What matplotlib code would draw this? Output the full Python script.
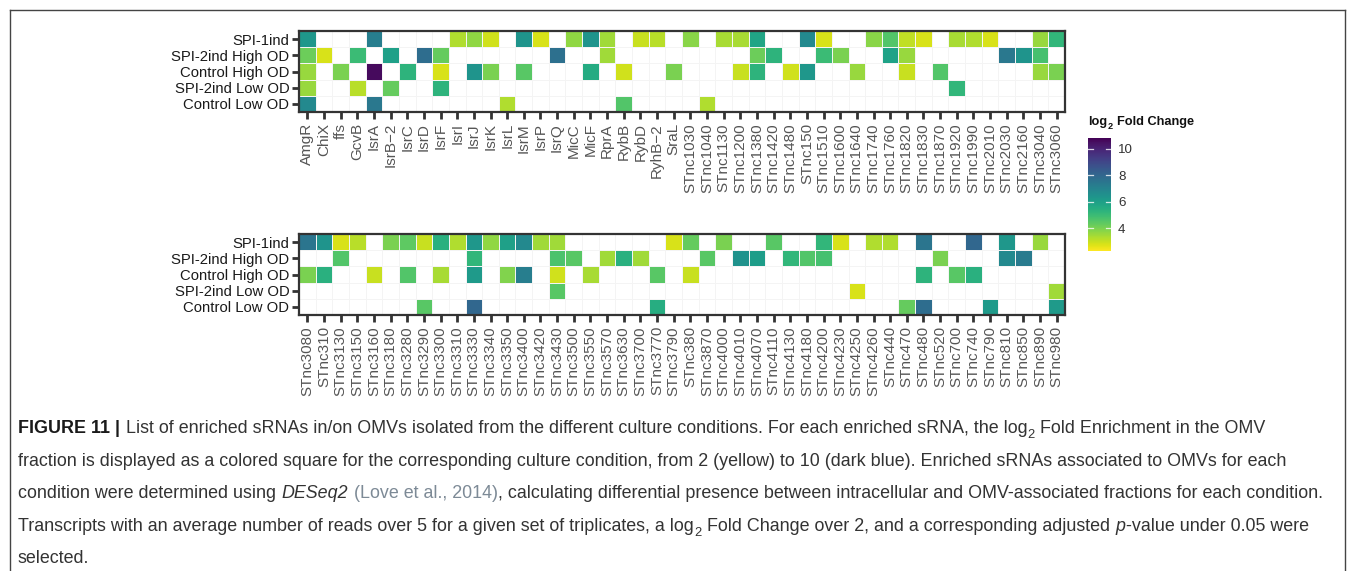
import numpy as np
import matplotlib
matplotlib.use('Agg')
import matplotlib.pyplot as plt
from matplotlib.transforms import IdentityTransform
from matplotlib.lines import Line2D

plt.rcParams['font.family'] = ['Liberation Sans', 'DejaVu Sans']

_ = None

conditions = ['SPI-1ind', 'SPI-2ind High OD', 'Control High OD',
              'SPI-2ind Low OD', 'Control Low OD']

top_srnas = ['AmgR', 'ChiX', 'ffs', 'GcvB', 'IsrA', 'IsrB\u22122', 'IsrC', 'IsrD',
             'IsrF', 'IsrI', 'IsrJ', 'IsrK', 'IsrL', 'IsrM', 'IsrP', 'IsrQ',
             'MicC', 'MicF', 'RprA', 'RybB', 'RybD', 'RyhB\u22122', 'SraL',
             'STnc1030', 'STnc1040', 'STnc1130', 'STnc1200', 'STnc1380',
             'STnc1420', 'STnc1480', 'STnc150', 'STnc1510', 'STnc1600',
             'STnc1640', 'STnc1740', 'STnc1760', 'STnc1820', 'STnc1830',
             'STnc1870', 'STnc1920', 'STnc1990', 'STnc2010', 'STnc2030',
             'STnc2160', 'STnc3040', 'STnc3060']

bottom_srnas = ['STnc3080', 'STnc310', 'STnc3130', 'STnc3150', 'STnc3160',
                'STnc3180', 'STnc3280', 'STnc3290', 'STnc3300', 'STnc3310',
                'STnc3330', 'STnc3340', 'STnc3350', 'STnc3400', 'STnc3420',
                'STnc3430', 'STnc3500', 'STnc3550', 'STnc3570', 'STnc3630',
                'STnc3700', 'STnc3770', 'STnc3790', 'STnc380', 'STnc3870',
                'STnc4000', 'STnc4010', 'STnc4070', 'STnc4110', 'STnc4130',
                'STnc4180', 'STnc4200', 'STnc4230', 'STnc4250', 'STnc4260',
                'STnc440', 'STnc470', 'STnc480', 'STnc520', 'STnc700',
                'STnc740', 'STnc790', 'STnc810', 'STnc850', 'STnc890', 'STnc980']

# log2 fold change per condition (None = not enriched)
top_spi1 = [6.3, _, _, _, 7.2, _, _, _, _, 3.3,
            3.7, 2.9, _, 6.4, 2.8, _, 3.7, 6.4, 3.5, _,
            3.0, 3.2, _, 3.8, _, 3.4, 3.4, 5.8, _, _,
            6.8, 2.8, _, _, 3.8, 4.6, 3.1, 2.8, _, 3.4,
            3.3, 2.8, _, _, 3.6, 5.2]
top_spi2_high = [4.2, 2.8, _, 5.0, _, 6.0, _, 7.8, 4.3, _,
                 _, _, _, _, _, 7.7, _, _, 3.5, _,
                 _, _, _, _, _, _, _, 4.2, 5.3, _,
                 _, 5.0, 4.0, _, _, 5.9, 3.6, _, _, _,
                 _, _, 7.4, 6.4, 4.8, _]
top_ctrl_high = [3.6, _, 4.0, _, 10.6, _, 5.3, _, 2.8, _,
                 6.4, 4.0, _, 4.5, _, _, _, 5.6, _, 2.9,
                 _, _, 4.0, _, _, _, 3.0, 5.3, _, 2.9,
                 6.3, _, _, 3.6, _, _, 3.0, _, 4.6, _,
                 _, _, _, _, 3.6, 4.0]
top_spi2_low = [3.6, _, _, 3.2, _, 4.3, _, _, 5.3, _,
                _, _, _, _, _, _, _, _, _, _,
                _, _, _, _, _, _, _, _, _, _,
                _, _, _, _, _, _, _, _, _, 5.2,
                _, _, _, _, _, _]
top_ctrl_low = [6.8, _, _, _, 7.4, _, _, _, _, _,
                _, _, 3.3, _, _, _, _, _, _, 4.6,
                _, _, _, _, 3.3, _, _, _, _, _,
                _, _, _, _, _, _, _, _, _, _,
                _, _, _, _, _, _]

bottom_spi1 = [7.5, 6.4, 2.8, 3.2, _, 4.0, 4.4, 3.0, 5.4, 3.3,
               6.3, 3.7, 6.0, 6.8, 3.5, 3.5, _, _, _, _,
               _, _, 2.8, 4.3, _, 4.0, _, _, 4.5, _,
               _, 5.2, 2.8, _, 3.3, 3.3, _, 7.5, _, _,
               8.0, _, 6.3, _, 3.6, _]
bottom_spi2_high = [_, _, 4.6, _, _, _, _, _, _, _,
                    5.2, _, _, _, _, 4.7, 4.5, _, 3.5, 5.4,
                    3.5, _, _, _, 4.5, _, 6.5, 6.1, _, 5.2,
                    4.6, 4.8, _, _, _, _, _, _, 4.0, _,
                    _, _, 6.8, 7.3, _, _]
bottom_ctrl_high = [4.0, 5.4, _, _, 3.0, _, 4.6, _, 3.4, _,
                    6.2, _, 3.9, 7.2, _, 2.9, _, 3.4, _, _,
                    _, 4.5, _, 3.0, _, _, _, _, _, _,
                    _, _, _, _, _, _, _, 5.3, _, 4.5,
                    5.4, _, _, _, _, _]
bottom_spi2_low = [_, _, _, _, _, _, _, _, _, _,
                   _, _, _, _, _, 4.5, _, _, _, _,
                   _, _, _, _, _, _, _, _, _, _,
                   _, _, _, 2.8, _, _, _, _, _, _,
                   _, _, _, _, _, 3.5]
bottom_ctrl_low = [_, _, _, _, _, _, _, 4.5, _, _,
                   8.0, _, _, _, _, _, _, _, _, _,
                   _, 5.5, _, _, _, _, _, _, _, _,
                   _, _, _, _, _, _, 4.3, 7.8, _, _,
                   _, 6.2, _, _, _, 6.2]

cbar_ticks = [4, 6, 8, 10]
VMIN, VMAX = 2.3, 10.8

W, H = 1360, 571
fig = plt.figure(figsize=(W / 100, H / 100), dpi=100)
fig.patch.set_facecolor('white')


def to_matrix(rows):
    return np.ma.masked_invalid(np.array(
        [[np.nan if v is None else v for v in row] for row in rows], dtype=float))


def heatmap(rect, rows, names):
    ax = fig.add_axes(rect)
    data = to_matrix(rows)
    ny, nx = data.shape
    mesh = ax.pcolormesh(np.arange(nx + 1), np.arange(ny + 1), data,
                         cmap='viridis_r', vmin=VMIN, vmax=VMAX,
                         edgecolors='#f4f4f4', linewidth=0.4)
    ax.set_xlim(0, nx)
    ax.set_ylim(ny, 0)
    ax.set_xticks(np.arange(nx) + 0.5)
    ax.set_xticklabels(names, rotation=90)
    ax.set_yticks(np.arange(ny) + 0.5)
    ax.set_yticklabels(conditions)
    ax.tick_params(axis='x', length=5, width=2, color='#333333',
                   labelcolor='#555555', labelsize=11, pad=3)
    ax.tick_params(axis='y', length=5, width=2, color='#333333',
                   labelcolor='#1a1a1a', labelsize=10.7, pad=2)
    for s in ax.spines.values():
        s.set_color('#333333')
        s.set_linewidth(1.6)
    return mesh


mesh = heatmap([299 / W, 1 - 112 / H, 766 / W, 81 / H],
               [top_spi1, top_spi2_high, top_ctrl_high, top_spi2_low, top_ctrl_low],
               top_srnas)
heatmap([299 / W, 1 - 315 / H, 766 / W, 81 / H],
        [bottom_spi1, bottom_spi2_high, bottom_ctrl_high, bottom_spi2_low, bottom_ctrl_low],
        bottom_srnas)

# colour bar
cax = fig.add_axes([1088 / W, 1 - 251 / H, 23 / W, 113 / H])
cb = fig.colorbar(mesh, cax=cax, ticks=cbar_ticks)
cb.outline.set_visible(False)
cax.tick_params(length=0, labelsize=9.6, labelcolor='#333333', pad=5)
tr = cax.get_yaxis_transform()
for t in cbar_ticks:
    cax.plot([0, 0.2], [t, t], color='white', lw=0.9, transform=tr, alpha=0.8)
    cax.plot([0.8, 1.0], [t, t], color='white', lw=0.9, transform=tr, alpha=0.8)

renderer = fig.canvas.get_renderer()


def text_width(s, **kw):
    t = fig.text(0, 0, s, transform=IdentityTransform(), **kw)
    w = t.get_window_extent(renderer).width
    t.remove()
    return w


def draw_runs(x, y, runs, size, family, color, weight='normal'):
    # x, y in pixels from the top-left corner; y is the baseline
    drawn = []
    for s, style in runs:
        kw = dict(fontsize=size, family=family, color=color, weight=weight)
        dy = 0
        if style.get('sub'):
            kw['fontsize'] = size * 0.72
            dy = -size * 0.30 * 100 / 72
        for k in ('weight', 'style', 'color'):
            if k in style:
                kw[k] = style[k]
        sp = text_width('n n', **kw) - text_width('nn', **kw)
        core = s.strip(' ')
        if not core:
            x += len(s) * sp
            continue
        lead = len(s) - len(s.lstrip(' '))
        trail = len(s) - len(s.rstrip(' '))
        x += lead * sp
        t = fig.text(x, H - y + dy, core, transform=IdentityTransform(),
                     ha='left', va='baseline', **kw)
        drawn.append(t)
        x = t.get_window_extent(renderer).x1 + 0.5
        x += trail * sp
    return x, drawn


# colour bar title
draw_runs(1088, 125, [('log', {}), ('2', {'sub': True}), (' Fold Change', {})],
          9.2, ['Liberation Sans', 'DejaVu Sans'], '#111111', weight='bold')

# caption
cap_family = ['Liberation Sans', 'DejaVu Sans']
cap_color = '#333333'
n = {}
caption = [
    [('FIGURE 11 | ', {'weight': 'bold', 'color': '#1a1a1a'}),
     ('List of enriched sRNAs in/on OMVs isolated from the different culture conditions. '
      'For each enriched sRNA, the log', n), ('2', {'sub': True}),
     (' Fold Enrichment in the OMV', n)],
    [('fraction is displayed as a colored square for the corresponding culture condition, '
      'from 2 (yellow) to 10 (dark blue). Enriched sRNAs associated to OMVs for each', n)],
    [('condition were determined using ', n), ('DESeq2', {'style': 'italic'}), (' ', n),
     ('(Love et al., 2014)', {'color': '#7d8a96'}),
     (', calculating differential presence between intracellular and OMV-associated '
      'fractions for each condition.', n)],
    [('Transcripts with an average number of reads over 5 for a given set of triplicates, '
      'a log', n), ('2', {'sub': True}),
     (' Fold Change over 2, and a corresponding adjusted ', n), ('p', {'style': 'italic'}),
     ('-value under 0.05 were', n)],
    [('selected.', n)],
]

# pick the caption size so the longest line spans the panel
trial_end, trial = draw_runs(18, 433, caption[2], 14, cap_family, cap_color)
for t in trial:
    t.remove()
cap_size = 14 * (1328 - 18) / (trial_end - 18)

for i, line in enumerate(caption):
    draw_runs(18, 433 + i * 32.6, line, cap_size, cap_family, cap_color)

# frame around the panel
fx = lambda px: px / W
fy = lambda py: 1 - py / H
for xs, ys in [([10, 10], [10, H + 5]), ([10, 1345], [10, 10]), ([1345, 1345], [10, H + 5])]:
    fig.add_artist(Line2D([fx(v) for v in xs], [fy(v) for v in ys],
                          color='#444444', lw=1.0))

fig.savefig('out.png', dpi=100)
